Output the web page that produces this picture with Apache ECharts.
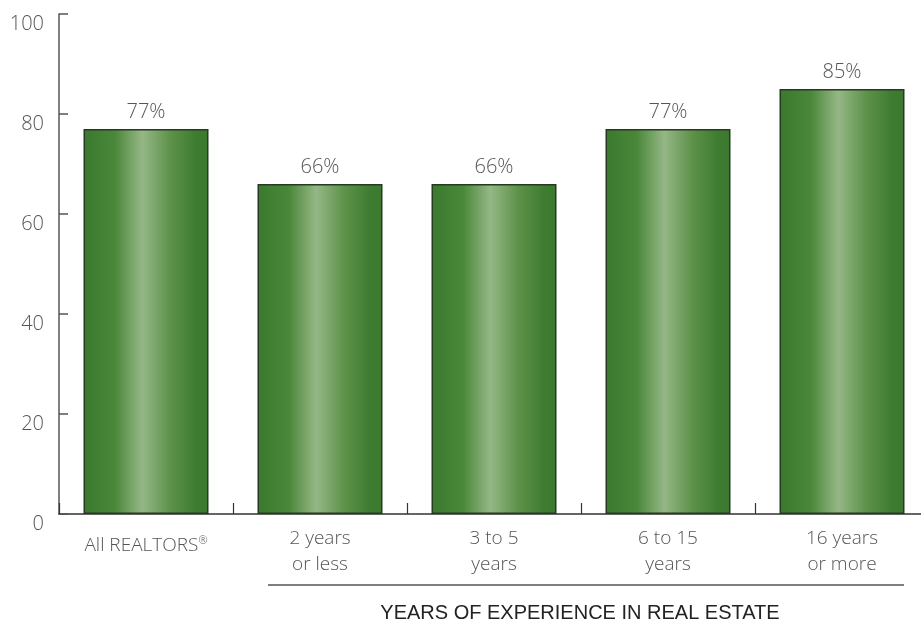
<!DOCTYPE html>
<html>
<head>
<meta charset="utf-8">
<script src="https://cdn.jsdelivr.net/npm/echarts@6/dist/echarts.min.js"></script>
<style>
  html, body { margin: 0; padding: 0; background: #fff; }
  #main { width: 921px; height: 622px; }
</style>
</head>
<body>
<div id="main"></div>
<script>
// data
var categories = ['All REALTORS®', '2 years\nor less', '3 to 5\nyears', '6 to 15\nyears', '16 years\nor more'];
var shares = [77, 66, 66, 77, 85];
var axisTitle = 'YEARS OF EXPERIENCE IN REAL ESTATE';

var myChart = echarts.init(document.getElementById('main'));

// bar fill, shiny cylinder look
var barFill = new echarts.graphic.LinearGradient(0, 0, 1, 0, [
    { offset: 0, color: '#3a792e' },
    { offset: 0.25, color: '#4a8739' },
    { offset: 0.47, color: '#95b786' },
    { offset: 0.7, color: '#5c9148' },
    { offset: 0.9, color: '#3e7c31' },
    { offset: 1, color: '#3a792e' }
]);

var font = '"Open Sans", Roboto, sans-serif';

var option = {
    animation: false,
    grid: {
        left: 59,
        top: 14,
        bottom: 108,
        width: 870, // last category runs past the right edge
        containLabel: false,
        outerBoundsMode: 'none'
    },
    xAxis: {
        type: 'category',
        data: categories,
        axisLine: { lineStyle: { color: '#333', width: 1.5 } },
        axisTick: {
            show: true,
            inside: true,
            length: 11,
            lineStyle: { color: '#333', width: 1.2 }
        },
        axisLabel: {
            interval: 0,
            margin: 12,
            fontSize: 19,
            lineHeight: 26,
            color: '#555',
            fontFamily: font,
            fontWeight: 300,
            formatter: function (v) {
                // single-line label sits a bit lower, with a raised ®
                if (v.indexOf('®') >= 0) {
                    return '{solo|' + v.replace('®', '') + '}{sup|®}';
                }
                return v;
            },
            rich: {
                solo: { fontSize: 19, lineHeight: 40, color: '#555', fontFamily: font, fontWeight: 300 },
                sup: { fontSize: 11, lineHeight: 40, color: '#555', fontFamily: font, fontWeight: 300, padding: [0, 0, 10, 0] }
            }
        }
    },
    yAxis: {
        type: 'value',
        min: 0,
        max: 100,
        interval: 20,
        splitLine: { show: false },
        axisLine: { show: true, lineStyle: { color: '#555', width: 1.5 } },
        axisTick: {
            show: true,
            inside: true,
            length: 9,
            lineStyle: { color: '#555', width: 1.5 }
        },
        axisLabel: {
            margin: 15,
            fontSize: 20,
            color: '#555',
            fontFamily: font,
            fontWeight: 300,
            verticalAlign: 'top'
        }
    },
    series: [
        {
            type: 'bar',
            data: shares,
            barWidth: 125,
            itemStyle: {
                color: barFill,
                borderColor: '#263a22',
                borderWidth: 1.5
            },
            label: {
                show: true,
                position: 'top',
                distance: 7,
                formatter: '{c}%',
                fontSize: 20,
                color: '#555',
                fontFamily: font,
                fontWeight: 300
            }
        }
    ],
    graphic: [
        {
            type: 'line',
            shape: { x1: 268, y1: 585, x2: 904, y2: 585 },
            style: { stroke: '#555', lineWidth: 1.5 }
        },
        {
            type: 'text',
            x: 580,
            y: 613,
            style: {
                text: axisTitle,
                fontSize: 20,
                fill: '#222',
                fontFamily: '"Liberation Sans", Arial, sans-serif',
                align: 'center',
                verticalAlign: 'middle'
            }
        }
    ]
};

option && myChart.setOption(option, true);
</script>
</body>
</html>
